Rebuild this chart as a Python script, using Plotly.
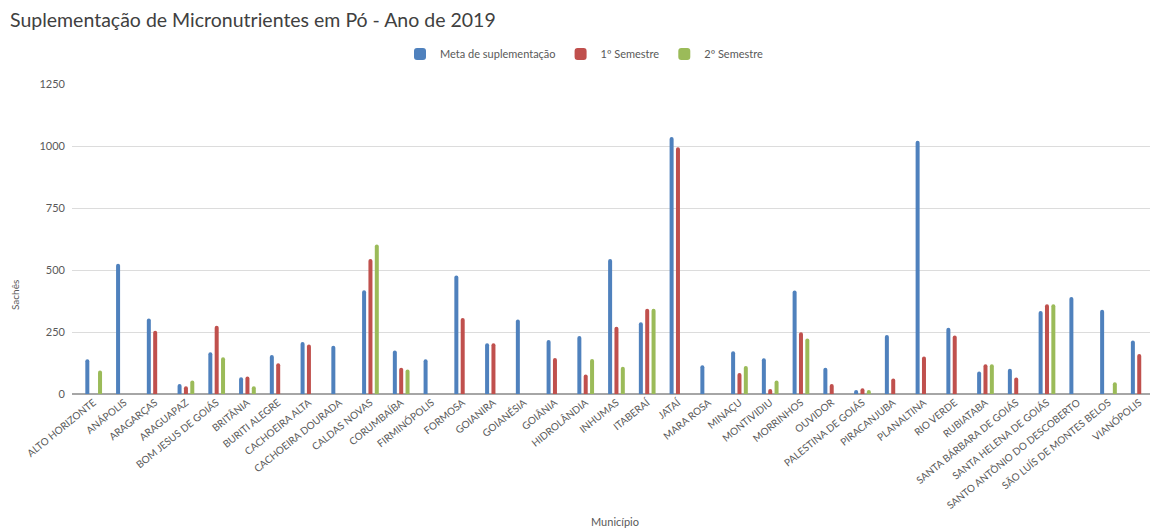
import plotly.graph_objects as go

municipios = [
    "ALTO HORIZONTE", "ANÁPOLIS", "ARAGARÇAS", "ARAGUAPAZ", "BOM JESUS DE GOIÁS",
    "BRITÂNIA", "BURITI ALEGRE", "CACHOEIRA ALTA", "CACHOEIRA DOURADA", "CALDAS NOVAS",
    "CORUMBAÍBA", "FIRMINÓPOLIS", "FORMOSA", "GOIANIRA", "GOIANÉSIA",
    "GOIÂNIA", "HIDROLÂNDIA", "INHUMAS", "ITABERAÍ", "JATAÍ",
    "MARA ROSA", "MINAÇU", "MONTIVIDIU", "MORRINHOS", "OUVIDOR",
    "PALESTINA DE GOIÁS", "PIRACANJUBA", "PLANALTINA", "RIO VERDE", "RUBIATABA",
    "SANTA BÁRBARA DE GOIÁS", "SANTA HELENA DE GOIÁS", "SANTO ANTÔNIO DO DESCOBERTO",
    "SÃO LUÍS DE MONTES BELOS", "VIANÓPOLIS",
]

meta = [
    140, 525, 304, 40, 168,
    68, 157, 210, 195, 418,
    175, 140, 478, 205, 300,
    218, 234, 544, 289, 1036,
    116, 172, 144, 417, 106,
    16, 238, 1021, 267, 91,
    102, 335, 391,
    340, 216,
]

semestre_1 = [
    None, None, 255, 31, 275,
    71, 124, 200, None, 544,
    106, None, 306, 205, None,
    145, 79, 271, 344, 995,
    None, 85, 20, 249, 40,
    23, 62, 151, 236, 120,
    67, 362, None,
    None, 161,
]

semestre_2 = [
    95, None, None, 54, 148,
    31, None, None, None, 603,
    99, None, None, None, None,
    None, 141, 110, 344, None,
    None, 113, 54, 224, None,
    16, None, None, None, 120,
    None, 362, None,
    47, None,
]

y_ticks = [0, 250, 500, 750, 1000, 1250]

FONT = "Lato, 'Open Sans', sans-serif"
TEXT = "#595959"

fig = go.Figure()
series = [
    ("Meta de suplementação", meta, "#4f81bd"),
    ("1º Semestre", semestre_1, "#c0504d"),
    ("2º Semestre", semestre_2, "#9bbb59"),
]
for name, values, color in series:
    fig.add_trace(go.Bar(
        x=municipios, y=values, name=name,
        marker=dict(color=color, line=dict(width=0)),
        hoverinfo="x+y+name",
    ))

fig.update_layout(
    width=1150, height=530,
    margin=dict(l=72, r=0, t=84, b=136),
    paper_bgcolor="white", plot_bgcolor="white",
    barmode="group", bargap=0.38, bargroupgap=0.37, barcornerradius=2,
    font=dict(family=FONT, color=TEXT),
    title=dict(
        text="Suplementação de Micronutrientes em Pó - Ano de 2019",
        x=10 / 1150, xanchor="left", xref="container",
        y=1 - 20 / 530, yanchor="middle", yref="container",
        font=dict(family=FONT, size=19.5, color="#404040"),
    ),
    legend=dict(
        orientation="h", xref="container", yref="container",
        x=584 / 1150, xanchor="center", y=1 - 54 / 530, yanchor="middle",
        font=dict(size=11, color=TEXT),
        traceorder="normal",
    ),
    xaxis=dict(
        type="category", range=[-0.705, 34.35],
        tickangle=-39, tickfont=dict(size=10, color=TEXT),
        showgrid=False, ticks="", showline=False, zeroline=False,
    ),
    yaxis=dict(
        range=[0, 1250], tickvals=y_ticks,
        tickfont=dict(size=11, color=TEXT),
        showgrid=True, gridcolor="#dcdcdc", gridwidth=1,
        zeroline=True, zerolinecolor="#a6a6a6", zerolinewidth=1.5,
        showline=False, ticks="", ticklabelstandoff=6,
    ),
    annotations=[
        dict(text="Sachês", textangle=-90, xref="paper", yref="paper",
             x=(15 - 72) / 1078, y=(394 - 295) / 310,
             xanchor="center", yanchor="middle",
             showarrow=False, font=dict(size=10, color=TEXT)),
        dict(text="Município", xref="paper", yref="paper",
             x=(615 - 72) / 1078, y=(394 - 521) / 310,
             xanchor="center", yanchor="middle",
             showarrow=False, font=dict(size=11, color=TEXT)),
    ],
)

fig.write_html("out.html")
